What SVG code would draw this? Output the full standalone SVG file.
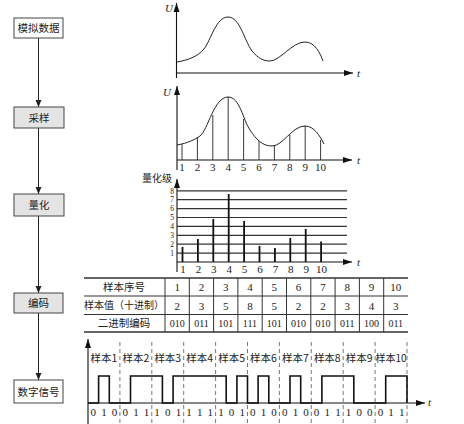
<svg xmlns="http://www.w3.org/2000/svg" width="464" height="424" viewBox="0 0 464 424">
<defs>
<marker id="ah" markerWidth="8" markerHeight="8" refX="7" refY="4" orient="auto" markerUnits="userSpaceOnUse"><path d="M0,1 L7,4 L0,7 Z" fill="#222"/></marker>
<marker id="ax" markerWidth="10" markerHeight="8" refX="9" refY="4" orient="auto" markerUnits="userSpaceOnUse"><path d="M0,1 L9,4 L0,7 Z" fill="#111"/></marker>
</defs>
<style>
.ln{stroke:#222;stroke-width:1;fill:none}
.axis{stroke:#111;stroke-width:1.1;fill:none}
.box{fill:#fff;stroke:#444;stroke-width:1}
.gbox{fill:#e4e4e4;stroke:#444;stroke-width:1}
.cj{font-family:"Noto Sans CJK SC","Noto Sans",sans-serif;font-size:10.5px;fill:#222}
.num{font-family:"Liberation Serif","DejaVu Serif",serif;font-size:11px;fill:#222}
.lv{font-size:7.5px}
.sm{font-size:10px}
.it{font-family:"Liberation Serif",serif;font-style:italic;font-size:11px;fill:#222}
.lvl{stroke:#333;stroke-width:1.2}
.bar{stroke:#111;stroke-width:1.8}
.samp{stroke:#222;stroke-width:0.9}
.dash{stroke:#555;stroke-width:0.8;stroke-dasharray:4,3}
.sig{stroke:#111;stroke-width:1.6;fill:none}
.tl{stroke:#333;stroke-width:1}
</style>
<rect width="464" height="424" fill="#fff"/>

<g id="connectors">
<line class="ln" x1="38.5" y1="38" x2="38.5" y2="107" marker-end="url(#ah)"/>
<line class="ln" x1="38.5" y1="128" x2="38.5" y2="194" marker-end="url(#ah)"/>
<line class="ln" x1="38.5" y1="216" x2="38.5" y2="293" marker-end="url(#ah)"/>
<line class="ln" x1="38.5" y1="313" x2="38.5" y2="380" marker-end="url(#ah)"/>
</g>

<g id="node-analog"><rect class="box" x="14" y="18" width="49" height="20"/><text class="cj" x="38.5" y="32" text-anchor="middle">模拟数据</text></g>
<g id="node-sample"><rect class="gbox" x="14" y="107" width="50" height="21"/><text class="cj" x="39" y="121.5" text-anchor="middle">采样</text></g>
<g id="node-quant"><rect class="gbox" x="14" y="194" width="50" height="22"/><text class="cj" x="39" y="209" text-anchor="middle">量化</text></g>
<g id="node-encode"><rect class="gbox" x="14" y="293" width="49" height="20"/><text class="cj" x="38.5" y="307" text-anchor="middle">编码</text></g>
<g id="node-digital"><rect class="box" x="14" y="380" width="49" height="23"/><text class="cj" x="38.5" y="395.5" text-anchor="middle">数字信号</text></g>

<g id="chart-analog">
<line class="axis" x1="176.5" y1="78" x2="176.5" y2="3" marker-end="url(#ax)"/>
<line class="axis" x1="176" y1="73" x2="353" y2="73" marker-end="url(#ax)"/>
<text class="it" x="165" y="12">U</text>
<text class="it" x="357" y="77">t</text>
<path class="ln" stroke-width="1.2" d="M177,62 C188,60 197,57 204,49 C211,40 216,17 228,17 C240,17 244,40 252,51 C258,58 263,61 270,61 C280,61 292,42 305,42 C315,42 320,53 323,61"/>
</g>

<g id="chart-sampled">
<line class="axis" x1="177" y1="170" x2="177" y2="86" marker-end="url(#ax)"/>
<line class="axis" x1="177" y1="160" x2="352" y2="160" marker-end="url(#ax)"/>
<text class="it" x="163" y="96">U</text>
<text class="it" x="357" y="164">t</text>
<path class="ln" stroke-width="1.2" d="M177,145 C188,143 194,140 200,136 C208,130 214,97 228,97 C240,97 243,120 250,130 C256,139 262,146 272,146 C283,146 292,126 305,126 C314,126 320,136 324,144"/>
<g class="samp">
<line x1="182" y1="160" x2="182" y2="144"/>
<line x1="197.4" y1="160" x2="197.4" y2="137"/>
<line x1="212.8" y1="160" x2="212.8" y2="115"/>
<line x1="228.2" y1="160" x2="228.2" y2="97"/>
<line x1="243.6" y1="160" x2="243.6" y2="119"/>
<line x1="259" y1="160" x2="259" y2="141"/>
<line x1="274.4" y1="160" x2="274.4" y2="146"/>
<line x1="289.8" y1="160" x2="289.8" y2="135"/>
<line x1="305.2" y1="160" x2="305.2" y2="126"/>
<line x1="320.6" y1="160" x2="320.6" y2="140"/>
</g>
<g class="num" text-anchor="middle">
<text x="182" y="171">1</text><text x="197.4" y="171">2</text><text x="212.8" y="171">3</text><text x="228.2" y="171">4</text><text x="243.6" y="171">5</text><text x="259" y="171">6</text><text x="274.4" y="171">7</text><text x="289.8" y="171">8</text><text x="305.2" y="171">9</text><text x="320.6" y="171">10</text>
</g>
</g>

<g id="chart-quant">
<text class="cj sm" x="142" y="182">量化级</text>
<line class="axis" x1="177" y1="272" x2="177" y2="179" marker-end="url(#ax)"/>
<line class="axis" x1="177" y1="262" x2="352" y2="262" marker-end="url(#ax)"/>
<text class="it" x="357" y="266">t</text>
<g class="lvl">
<line x1="177" y1="253.1" x2="347" y2="253.1"/>
<line x1="177" y1="244.2" x2="347" y2="244.2"/>
<line x1="177" y1="235.3" x2="347" y2="235.3"/>
<line x1="177" y1="226.4" x2="347" y2="226.4"/>
<line x1="177" y1="217.5" x2="347" y2="217.5"/>
<line x1="177" y1="208.6" x2="347" y2="208.6"/>
<line x1="177" y1="199.7" x2="347" y2="199.7"/>
<line x1="177" y1="190.8" x2="347" y2="190.8"/>
</g>
<g class="num lv" text-anchor="middle">
<text x="172" y="193.5">8</text><text x="172" y="202.4">7</text><text x="172" y="211.3">6</text><text x="172" y="220.2">5</text><text x="172" y="229.1">4</text><text x="172" y="238">3</text><text x="172" y="246.9">2</text><text x="172" y="255.8">1</text>
</g>
<g class="bar">
<line x1="182.5" y1="262" x2="182.5" y2="247"/>
<line x1="197.9" y1="262" x2="197.9" y2="239"/>
<line x1="213.3" y1="262" x2="213.3" y2="219"/>
<line x1="228.7" y1="262" x2="228.7" y2="194"/>
<line x1="244.1" y1="262" x2="244.1" y2="221"/>
<line x1="259.5" y1="262" x2="259.5" y2="246"/>
<line x1="274.9" y1="262" x2="274.9" y2="248"/>
<line x1="290.3" y1="262" x2="290.3" y2="238"/>
<line x1="305.7" y1="262" x2="305.7" y2="229"/>
<line x1="321.1" y1="262" x2="321.1" y2="241.5"/>
</g>
<g class="num" text-anchor="middle">
<text x="183" y="273">1</text><text x="198.4" y="273">2</text><text x="213.8" y="273">3</text><text x="229.2" y="273">4</text><text x="244.6" y="273">5</text><text x="260" y="273">6</text><text x="275.4" y="273">7</text><text x="290.8" y="273">8</text><text x="306.2" y="273">9</text><text x="321.6" y="273">10</text>
</g>
</g>

<g id="table">
<g class="tl">
<line x1="84" y1="278" x2="408" y2="278" stroke-width="1.3"/>
<line x1="84" y1="296" x2="408" y2="296"/>
<line x1="84" y1="314.5" x2="408" y2="314.5"/>
<line x1="84" y1="332" x2="408" y2="332" stroke-width="1.3"/>
<line x1="165" y1="278" x2="165" y2="332"/>
<line x1="189.3" y1="278" x2="189.3" y2="332"/>
<line x1="213.6" y1="278" x2="213.6" y2="332"/>
<line x1="237.9" y1="278" x2="237.9" y2="332"/>
<line x1="262.2" y1="278" x2="262.2" y2="332"/>
<line x1="286.5" y1="278" x2="286.5" y2="332"/>
<line x1="310.8" y1="278" x2="310.8" y2="332"/>
<line x1="335.1" y1="278" x2="335.1" y2="332"/>
<line x1="359.4" y1="278" x2="359.4" y2="332"/>
<line x1="383.7" y1="278" x2="383.7" y2="332"/>
</g>
<g class="cj" text-anchor="middle">
<text x="124" y="291">样本序号</text>
<text class="sm" x="124" y="309">样本值（十进制）</text>
<text x="124" y="327">二进制编码</text>
</g>
<g class="num" text-anchor="middle">
<text x="177.2" y="291">1</text><text x="201.5" y="291">2</text><text x="225.7" y="291">3</text><text x="250" y="291">4</text><text x="274.3" y="291">5</text><text x="298.6" y="291">6</text><text x="322.9" y="291">7</text><text x="347.2" y="291">8</text><text x="371.5" y="291">9</text><text x="395.8" y="291">10</text>
<text x="177.2" y="309.5">2</text><text x="201.5" y="309.5">3</text><text x="225.7" y="309.5">5</text><text x="250" y="309.5">8</text><text x="274.3" y="309.5">5</text><text x="298.6" y="309.5">2</text><text x="322.9" y="309.5">2</text><text x="347.2" y="309.5">3</text><text x="371.5" y="309.5">4</text><text x="395.8" y="309.5">3</text>
</g>
<g class="num sm" text-anchor="middle">
<text x="177.2" y="327">010</text><text x="201.5" y="327">011</text><text x="225.7" y="327">101</text><text x="250" y="327">111</text><text x="274.3" y="327">101</text><text x="298.6" y="327">010</text><text x="322.9" y="327">010</text><text x="347.2" y="327">011</text><text x="371.5" y="327">100</text><text x="395.8" y="327">011</text>
</g>
</g>

<g id="chart-digital">
<line class="axis" x1="88" y1="424" x2="88" y2="339" marker-end="url(#ax)"/>
<line class="axis" x1="88" y1="403" x2="425" y2="403" marker-end="url(#ax)"/>
<text class="it" x="428" y="406">t</text>
<g class="dash">
<line x1="119.9" y1="342" x2="119.9" y2="424"/>
<line x1="151.8" y1="342" x2="151.8" y2="424"/>
<line x1="183.7" y1="342" x2="183.7" y2="424"/>
<line x1="215.6" y1="342" x2="215.6" y2="424"/>
<line x1="247.5" y1="342" x2="247.5" y2="424"/>
<line x1="279.4" y1="342" x2="279.4" y2="424"/>
<line x1="311.3" y1="342" x2="311.3" y2="424"/>
<line x1="343.2" y1="342" x2="343.2" y2="424"/>
<line x1="375.1" y1="342" x2="375.1" y2="424"/>
<line x1="407" y1="342" x2="407" y2="424"/>
</g>
<g class="cj" text-anchor="middle">
<text x="104" y="362">样本1</text><text x="135.9" y="362">样本2</text><text x="167.8" y="362">样本3</text><text x="199.7" y="362">样本4</text><text x="231.6" y="362">样本5</text><text x="263.5" y="362">样本6</text><text x="295.4" y="362">样本7</text><text x="327.3" y="362">样本8</text><text x="359.2" y="362">样本9</text><text class="sm" x="391" y="362">样本10</text>
</g>
<path class="sig" d="M88,403 H98.6 V376 H109.3 V403 H130.5 V376 H162.4 V403 H173.1 V376 H226.2 V403 H236.9 V376 H247.5 V403 H258.1 V376 H268.8 V403 H290 V376 H300.7 V403 H321.9 V376 H353.8 V403 H385.7 V376 H407 V403"/>
<g class="num" text-anchor="middle">
<text x="93.3" y="416">0</text><text x="104" y="416">1</text><text x="114.6" y="416">0</text>
<text x="125.2" y="416">0</text><text x="135.9" y="416">1</text><text x="146.5" y="416">1</text>
<text x="157.1" y="416">1</text><text x="167.8" y="416">0</text><text x="178.4" y="416">1</text>
<text x="189" y="416">1</text><text x="199.7" y="416">1</text><text x="210.3" y="416">1</text>
<text x="220.9" y="416">1</text><text x="231.6" y="416">0</text><text x="242.2" y="416">1</text>
<text x="252.8" y="416">0</text><text x="263.5" y="416">1</text><text x="274.1" y="416">0</text>
<text x="284.7" y="416">0</text><text x="295.4" y="416">1</text><text x="306" y="416">0</text>
<text x="316.6" y="416">0</text><text x="327.3" y="416">1</text><text x="337.9" y="416">1</text>
<text x="348.5" y="416">1</text><text x="359.2" y="416">0</text><text x="369.8" y="416">0</text>
<text x="380.4" y="416">0</text><text x="391.1" y="416">1</text><text x="401.7" y="416">1</text>
</g>
</g>
</svg>
